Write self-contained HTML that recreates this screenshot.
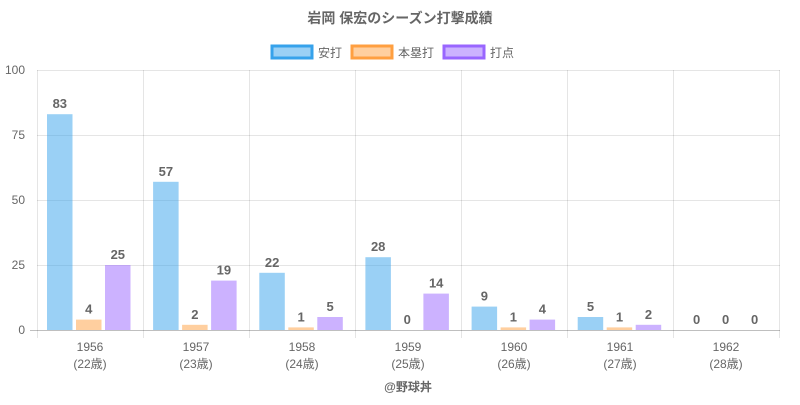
<!DOCTYPE html>
<html><head><meta charset="utf-8"><style>
html,body{margin:0;padding:0;background:#fff;}
svg text{font-family:"Liberation Sans","Noto Sans CJK JP",sans-serif;}
</style></head><body>
<svg width="800" height="400" viewBox="0 0 800 400" xmlns="http://www.w3.org/2000/svg">
<text x="400" y="23" text-anchor="middle" font-size="14" font-weight="bold" fill="#666">岩岡 保宏のシーズン打撃成績</text>
<rect x="272" y="46" width="40" height="12" fill="rgba(54,162,235,0.5)" stroke="rgb(54,162,235)" stroke-width="3"/>
<text x="318" y="57" font-size="12" fill="#666">安打</text>
<rect x="352" y="46" width="40" height="12" fill="rgba(255,159,64,0.5)" stroke="rgb(255,159,64)" stroke-width="3"/>
<text x="398" y="57" font-size="12" fill="#666">本塁打</text>
<rect x="444" y="46" width="40" height="12" fill="rgba(153,102,255,0.5)" stroke="rgb(153,102,255)" stroke-width="3"/>
<text x="490" y="57" font-size="12" fill="#666">打点</text>
<g stroke="rgba(0,0,0,0.1)" stroke-width="1">
<line x1="37" y1="70.5" x2="780" y2="70.5"/>
<line x1="37" y1="135.5" x2="780" y2="135.5"/>
<line x1="37" y1="200.5" x2="780" y2="200.5"/>
<line x1="37" y1="265.5" x2="780" y2="265.5"/>
<line x1="30" y1="330.5" x2="780" y2="330.5" stroke="rgba(0,0,0,0.25)"/>
<line x1="37.5" y1="70" x2="37.5" y2="338"/>
<line x1="143.5" y1="70" x2="143.5" y2="338"/>
<line x1="249.5" y1="70" x2="249.5" y2="338"/>
<line x1="355.5" y1="70" x2="355.5" y2="338"/>
<line x1="461.5" y1="70" x2="461.5" y2="338"/>
<line x1="567.5" y1="70" x2="567.5" y2="338"/>
<line x1="673.5" y1="70" x2="673.5" y2="338"/>
<line x1="779.5" y1="70" x2="779.5" y2="338"/>
</g>
<g font-size="12" fill="#666" text-anchor="end">
<text x="25" y="74">100</text><text x="25" y="139">75</text><text x="25" y="204">50</text><text x="25" y="269">25</text><text x="25" y="334">0</text>
</g>
<g fill="rgba(54,162,235,0.5)">
<rect x="47" y="114.2" width="25.5" height="215.8"/>
<rect x="153.1" y="181.8" width="25.5" height="148.2"/>
<rect x="259.3" y="272.8" width="25.5" height="57.2"/>
<rect x="365.4" y="257.2" width="25.5" height="72.8"/>
<rect x="471.6" y="306.6" width="25.5" height="23.4"/>
<rect x="577.7" y="317" width="25.5" height="13"/>
</g>
<g fill="rgba(255,159,64,0.5)">
<rect x="76" y="319.6" width="25.5" height="10.4"/>
<rect x="182.1" y="324.8" width="25.5" height="5.2"/>
<rect x="288.3" y="327.4" width="25.5" height="2.6"/>
<rect x="500.6" y="327.4" width="25.5" height="2.6"/>
<rect x="606.7" y="327.4" width="25.5" height="2.6"/>
</g>
<g fill="rgba(153,102,255,0.5)">
<rect x="105" y="265" width="25.5" height="65"/>
<rect x="211.1" y="280.6" width="25.5" height="49.4"/>
<rect x="317.3" y="317" width="25.5" height="13"/>
<rect x="423.4" y="293.6" width="25.5" height="36.4"/>
<rect x="529.6" y="319.6" width="25.5" height="10.4"/>
<rect x="635.7" y="324.8" width="25.5" height="5.2"/>
</g>
<g font-size="13" font-weight="bold" fill="#666" text-anchor="middle">
<text x="59.8" y="108.2">83</text><text x="88.8" y="313.6">4</text><text x="117.8" y="259">25</text>
<text x="165.9" y="175.8">57</text><text x="194.9" y="318.8">2</text><text x="223.9" y="274.6">19</text>
<text x="272.1" y="266.8">22</text><text x="301.1" y="321.4">1</text><text x="330.1" y="311">5</text>
<text x="378.2" y="251.2">28</text><text x="407.2" y="324">0</text><text x="436.2" y="287.6">14</text>
<text x="484.4" y="300.6">9</text><text x="513.4" y="321.4">1</text><text x="542.4" y="313.6">4</text>
<text x="590.5" y="311">5</text><text x="619.5" y="321.4">1</text><text x="648.5" y="318.8">2</text>
<text x="696.6" y="324">0</text><text x="725.6" y="324">0</text><text x="754.6" y="324">0</text>
</g>
<g font-size="12" fill="#666" text-anchor="middle">
<text x="90" y="351">1956</text><text x="90" y="368">(22歳)</text>
<text x="196" y="351">1957</text><text x="196" y="368">(23歳)</text>
<text x="302" y="351">1958</text><text x="302" y="368">(24歳)</text>
<text x="408" y="351">1959</text><text x="408" y="368">(25歳)</text>
<text x="514" y="351">1960</text><text x="514" y="368">(26歳)</text>
<text x="620" y="351">1961</text><text x="620" y="368">(27歳)</text>
<text x="726" y="351">1962</text><text x="726" y="368">(28歳)</text>
</g>
<text x="408" y="391" text-anchor="middle" font-size="12" font-weight="bold" fill="#666">@野球丼</text>
</svg>
</body></html>
